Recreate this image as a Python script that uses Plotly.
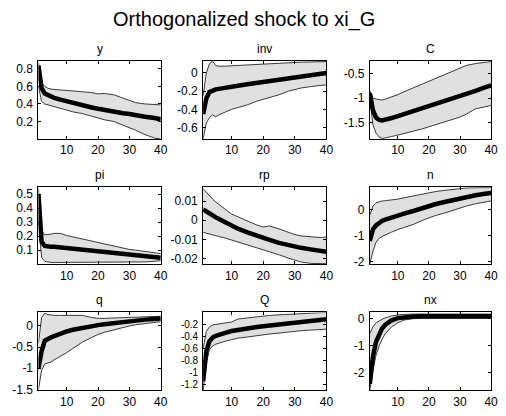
import plotly.graph_objects as go

periods = [1, 2, 3, 4, 5, 6, 8, 10, 12, 15, 18, 20, 22, 25, 28, 30, 32, 35, 38, 40]

y_mean = [0.84, 0.58, 0.52, 0.50, 0.48, 0.47, 0.45, 0.43, 0.42, 0.39, 0.36, 0.345, 0.33, 0.31, 0.295, 0.285, 0.27, 0.255, 0.24, 0.225]
y_upper = [0.87, 0.64, 0.60, 0.58, 0.57, 0.565, 0.56, 0.555, 0.55, 0.545, 0.53, 0.515, 0.52, 0.505, 0.47, 0.44, 0.415, 0.40, 0.39, 0.39]
y_lower = [0.60, 0.43, 0.40, 0.39, 0.38, 0.37, 0.35, 0.33, 0.31, 0.29, 0.26, 0.24, 0.22, 0.20, 0.16, 0.13, 0.10, 0.05, 0.01, 0.0]

inv_mean = [-0.45, -0.28, -0.21, -0.19, -0.18, -0.175, -0.16, -0.15, -0.14, -0.125, -0.11, -0.10, -0.09, -0.075, -0.06, -0.05, -0.04, -0.025, -0.01, 0.0]
inv_upper = [-0.25, 0.0, 0.10, 0.13, 0.08, 0.075, 0.075, 0.078, 0.08, 0.085, 0.09, 0.095, 0.10, 0.105, 0.11, 0.115, 0.118, 0.12, 0.123, 0.125]
inv_lower = [-0.72, -0.55, -0.49, -0.46, -0.48, -0.46, -0.43, -0.40, -0.38, -0.35, -0.31, -0.29, -0.27, -0.24, -0.20, -0.18, -0.165, -0.15, -0.14, -0.13]

C_mean = [-0.90, -1.25, -1.40, -1.45, -1.46, -1.45, -1.41, -1.37, -1.33, -1.26, -1.19, -1.15, -1.11, -1.05, -0.99, -0.95, -0.91, -0.85, -0.78, -0.74]
C_upper = [-0.85, -1.00, -1.02, -1.03, -1.04, -1.02, -0.98, -0.93, -0.87, -0.79, -0.71, -0.66, -0.60, -0.52, -0.44, -0.39, -0.33, -0.29, -0.26, -0.25]
C_lower = [-1.00, -1.55, -1.72, -1.80, -1.83, -1.82, -1.79, -1.76, -1.73, -1.68, -1.63, -1.59, -1.55, -1.50, -1.44, -1.39, -1.33, -1.22, -1.18, -1.15]

pi_mean = [0.50, 0.16, 0.13, 0.125, 0.125, 0.125, 0.12, 0.117, 0.112, 0.105, 0.098, 0.093, 0.088, 0.081, 0.074, 0.069, 0.064, 0.057, 0.050, 0.045]
pi_upper = [0.54, 0.24, 0.21, 0.21, 0.215, 0.22, 0.22, 0.205, 0.195, 0.18, 0.16, 0.15, 0.14, 0.13, 0.115, 0.105, 0.10, 0.09, 0.08, 0.075]
pi_lower = [0.30, 0.05, 0.02, 0.015, 0.012, 0.012, 0.012, 0.012, 0.012, 0.012, 0.012, 0.012, 0.012, 0.012, 0.013, 0.013, 0.014, 0.016, 0.020, 0.025]

rp_mean = [0.0057, 0.0045, 0.0035, 0.0025, 0.0015, 0.0006, -0.0012, -0.0029, -0.0044, -0.0063, -0.0082, -0.0093, -0.0103, -0.0118, -0.0130, -0.0137, -0.0144, -0.0152, -0.0160, -0.0164]
rp_upper = [0.0165, 0.0145, 0.0125, 0.0110, 0.0095, 0.0082, 0.0055, 0.0032, 0.0018, -0.0004, -0.0025, -0.0035, -0.0030, -0.0045, -0.0065, -0.0075, -0.0082, -0.0087, -0.0090, -0.0088]
rp_lower = [-0.0063, -0.0068, -0.0072, -0.0078, -0.0082, -0.0085, -0.0093, -0.0103, -0.0113, -0.0130, -0.0145, -0.0154, -0.0164, -0.0180, -0.0198, -0.0208, -0.0218, -0.0225, -0.0227, -0.0227]

n_mean = [-1.20, -0.75, -0.60, -0.50, -0.42, -0.37, -0.28, -0.21, -0.14, -0.04, 0.08, 0.15, 0.22, 0.31, 0.40, 0.45, 0.50, 0.57, 0.63, 0.66]
n_upper = [-0.20, 0.15, 0.28, 0.33, 0.35, 0.36, 0.38, 0.42, 0.47, 0.55, 0.62, 0.66, 0.71, 0.76, 0.80, 0.83, 0.85, 0.86, 0.87, 0.87]
n_lower = [-2.10, -1.60, -1.25, -1.10, -1.02, -0.96, -0.86, -0.76, -0.68, -0.56, -0.40, -0.30, -0.22, -0.12, 0.0, 0.08, 0.15, 0.24, 0.31, 0.35]

q_mean = [-1.00, -0.60, -0.35, -0.30, -0.27, -0.24, -0.18, -0.13, -0.09, -0.04, 0.0, 0.02, 0.04, 0.07, 0.10, 0.12, 0.13, 0.15, 0.165, 0.175]
q_upper = [-0.40, 0.20, 0.30, 0.27, 0.26, 0.25, 0.25, 0.25, 0.25, 0.25, 0.20, 0.18, 0.18, 0.19, 0.20, 0.20, 0.21, 0.22, 0.23, 0.23]
q_lower = [-1.50, -1.05, -0.90, -0.88, -0.85, -0.80, -0.72, -0.63, -0.53, -0.38, -0.27, -0.20, -0.15, -0.09, -0.03, 0.0, 0.03, 0.06, 0.08, 0.10]

Q_mean = [-1.15, -0.65, -0.48, -0.42, -0.39, -0.37, -0.34, -0.31, -0.29, -0.27, -0.245, -0.23, -0.22, -0.20, -0.185, -0.17, -0.16, -0.14, -0.125, -0.115]
Q_upper = [-0.60, -0.32, -0.24, -0.21, -0.20, -0.19, -0.17, -0.16, -0.11, -0.09, -0.07, -0.06, -0.05, -0.04, -0.03, -0.02, -0.015, -0.01, -0.005, 0.0]
Q_lower = [-1.30, -0.85, -0.62, -0.56, -0.53, -0.51, -0.48, -0.455, -0.43, -0.41, -0.385, -0.37, -0.36, -0.345, -0.325, -0.315, -0.305, -0.295, -0.285, -0.28]

nx_mean = [-2.40, -1.40, -0.85, -0.55, -0.35, -0.22, -0.06, 0.02, 0.06, 0.08, 0.09, 0.09, 0.09, 0.09, 0.09, 0.09, 0.09, 0.09, 0.09, 0.09]
nx_upper = [-0.55, -0.30, -0.15, -0.07, -0.02, 0.03, 0.10, 0.14, 0.16, 0.17, 0.17, 0.17, 0.17, 0.17, 0.17, 0.17, 0.17, 0.17, 0.17, 0.17]
nx_lower = [-2.64, -1.90, -1.35, -1.00, -0.75, -0.55, -0.30, -0.15, -0.05, 0.0, 0.01, 0.01, 0.01, 0.01, 0.01, 0.01, 0.01, 0.01, 0.01, 0.01]

titles = ["y", "inv", "C", "pi", "rp", "n", "q", "Q", "nx"]
x_ticks = [10, 20, 30, 40]

y_tickvals = [
    [0.2, 0.4, 0.6, 0.8],
    [-0.6, -0.4, -0.2, 0],
    [-1.5, -1, -0.5],
    [0.1, 0.2, 0.3, 0.4, 0.5],
    [-0.02, -0.01, 0, 0.01],
    [-2, -1, 0],
    [-1.5, -1, -0.5, 0],
    [-1.2, -1, -0.8, -0.6, -0.4, -0.2],
    [-2, -1, 0],
]
y_ticktext = [
    ["0.2", "0.4", "0.6", "0.8"],
    ["-0.6", "-0.4", "-0.2", "0"],
    ["-1.5", "-1", "-0.5"],
    ["0.1", "0.2", "0.3", "0.4", "0.5"],
    ["-0.02", "-0.01", "0", "0.01"],
    ["-2", "-1", "0"],
    ["-1.5", "-1", "-0.5", "0"],
    ["-1.2", "-1", "-0.8", "-0.6", "-0.4", "-0.2"],
    ["-2", "-1", "0"],
]
y_ranges = [
    [0.0, 0.89], [-0.725, 0.13], [-1.84, -0.24],
    [0.0, 0.55], [-0.0229, 0.0172], [-2.1, 0.88],
    [-1.52, 0.32], [-1.3, 0.0], [-2.64, 0.23],
]
y_tick_sizes = [12, 12, 12, 12, 12, 12, 12, 10, 12]

series = [
    (y_lower, y_upper, y_mean), (inv_lower, inv_upper, inv_mean), (C_lower, C_upper, C_mean),
    (pi_lower, pi_upper, pi_mean), (rp_lower, rp_upper, rp_mean), (n_lower, n_upper, n_mean),
    (q_lower, q_upper, q_mean), (Q_lower, Q_upper, Q_mean), (nx_lower, nx_upper, nx_mean),
]

W, H = 506, 416
col_px = [(39, 163), (206, 331), (375, 498)]
row_px = [(62, 141), (190, 268), (317, 396)]

FONT = "Arial, Liberation Sans, sans-serif"
fig = go.Figure()
annotations = []
for i, (lo, hi, mn) in enumerate(series):
    r, c = divmod(i, 3)
    k = "" if i == 0 else str(i + 1)
    xa, ya = "x" + k, "y" + k
    fig.add_trace(go.Scatter(x=periods, y=lo, mode="lines", line=dict(color="#3a3a3a", width=1),
                             xaxis=xa, yaxis=ya, showlegend=False, hoverinfo="skip"))
    fig.add_trace(go.Scatter(x=periods, y=hi, mode="lines", line=dict(color="#3a3a3a", width=1),
                             fill="tonexty", fillcolor="#e0e0e0",
                             xaxis=xa, yaxis=ya, showlegend=False, hoverinfo="skip"))
    fig.add_trace(go.Scatter(x=periods, y=mn, mode="lines", line=dict(color="black", width=4.5),
                             xaxis=xa, yaxis=ya, showlegend=False))
    x0, x1 = col_px[c]
    y0, y1 = row_px[r]
    common = dict(showline=True, mirror="ticks", linecolor="black", linewidth=1,
                  ticks="inside", ticklen=3, tickcolor="black", showgrid=False, zeroline=False)
    fig.layout["xaxis" + k] = dict(domain=[x0 / W, x1 / W], anchor=ya, range=[1, 40],
                                   tickvals=x_ticks, ticktext=[str(t) for t in x_ticks],
                                   tickfont=dict(family=FONT, size=12, color="black"), **common)
    fig.layout["yaxis" + k] = dict(domain=[1 - y1 / H, 1 - y0 / H], anchor=xa, range=y_ranges[i],
                                   tickvals=y_tickvals[i], ticktext=y_ticktext[i],
                                   tickfont=dict(family=FONT, size=y_tick_sizes[i], color="black"),
                                   ticklabelstandoff=2, **common)
    annotations.append(dict(text=titles[i], x=(x0 + x1) / 2 / W, y=1 - (y0 - 3) / H,
                            xref="paper", yref="paper", xanchor="center", yanchor="bottom",
                            showarrow=False, font=dict(family=FONT, size=12, color="black")))

annotations.append(dict(text="Orthogonalized shock to xi_G", x=247 / W, y=1 - 20 / H,
                        xref="paper", yref="paper", xanchor="center", yanchor="middle",
                        showarrow=False, font=dict(family=FONT, size=20, color="black")))

fig.update_layout(width=W, height=H, margin=dict(l=0, r=0, t=0, b=0),
                  paper_bgcolor="white", plot_bgcolor="white", annotations=annotations)
fig.write_html("out.html")
